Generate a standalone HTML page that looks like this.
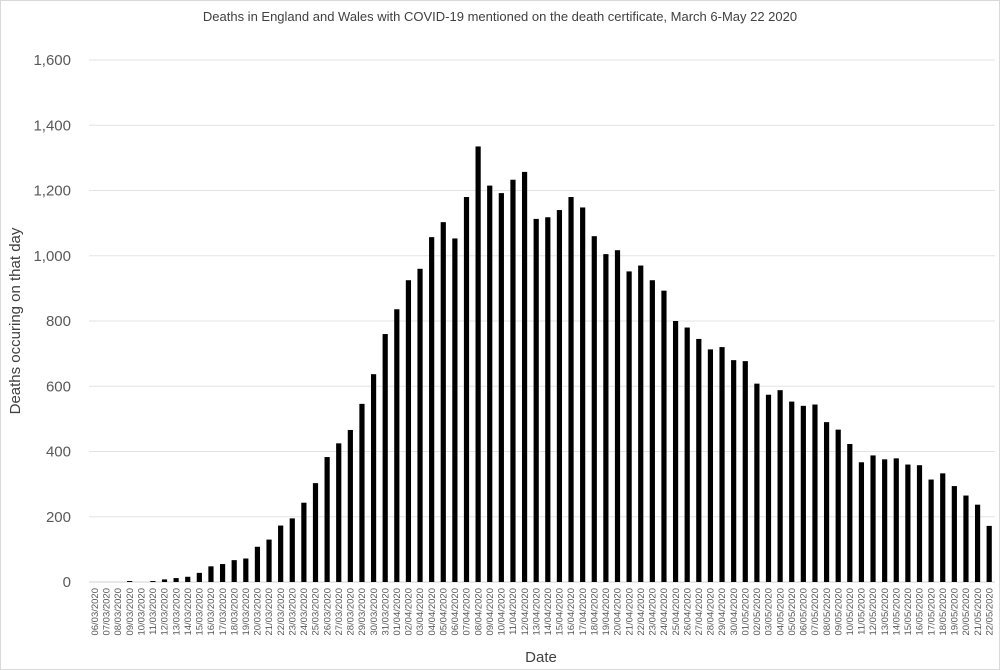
<!DOCTYPE html>
<html><head><meta charset="utf-8"><style>
body{margin:0;background:#fff;font-family:"Liberation Sans",sans-serif;}
svg{display:block}
</style></head><body>
<svg id="chart" width="1000" height="670">
<rect x="0.5" y="0.5" width="999" height="669" fill="#fff" stroke="#d9d9d9"/>
<text x="500" y="21" text-anchor="middle" font-size="13" fill="#404040">Deaths in England and Wales with COVID-19 mentioned on the death certificate, March 6-May 22 2020</text>
<text transform="translate(20,321) rotate(-90)" text-anchor="middle" font-size="15" fill="#404040">Deaths occuring on that day</text>
<text x="541" y="662" text-anchor="middle" font-size="15" fill="#404040">Date</text>
<g id="grid"></g><g id="bars"></g><g id="xl"></g>
</svg>
<script>
const yTicks=[0,200,400,600,800,1000,1200,1400,1600];
const values=[0,0,0,3,0,3,8,12,16,28,48,55,67,72,108,130,173,195,243,303,383,425,466,546,637,760,
836,925,960,1057,1103,1053,1180,1335,1215,1192,1233,1257,1113,1118,1140,1180,1148,1060,1005,1017,952,970,925,893,800,780,745,713,720,680,
677,608,574,588,553,540,544,490,467,423,367,388,376,379,360,358,314,333,294,265,237,172];
const months=[["03",6,31],["04",1,30],["05",1,22]];
const dates=[];
months.forEach(m=>{for(let d=m[1];d<=m[2];d++)dates.push(String(d).padStart(2,"0")+"/"+m[0]+"/2020");});
const NS="http://www.w3.org/2000/svg";
const x0=89,x1=995,yb=582,yt=60;
const y=v=>yb-(v/1600)*(yb-yt);
const step=(x1-x0)/dates.length;
const xc=i=>x0+step*(i+0.5);
const g=document.getElementById("grid"),b=document.getElementById("bars"),xl=document.getElementById("xl");
yTicks.forEach(t=>{
 const l=document.createElementNS(NS,"line");
 
 
 l.setAttribute("x1",x0);l.setAttribute("x2",x1);l.setAttribute("y1",y(t));l.setAttribute("y2",y(t));
 l.setAttribute("stroke",t===0?"#d0d0d0":"#e3e3e3");l.setAttribute("stroke-width","1");
 g.appendChild(l);
 const tx=document.createElementNS(NS,"text");
 
 
 tx.setAttribute("x",71);tx.setAttribute("y",y(t)+5);tx.setAttribute("text-anchor","end");
 tx.setAttribute("font-size","15");tx.setAttribute("fill","#595959");
 tx.textContent=t.toLocaleString("en-US");g.appendChild(tx);
});
values.forEach((v,i)=>{
 const r=document.createElementNS(NS,"rect");
 
 
 r.setAttribute("x",xc(i)-2.6);r.setAttribute("width",5.2);
 r.setAttribute("y",y(v));r.setAttribute("height",yb-y(v));r.setAttribute("fill","#000");
 b.appendChild(r);
 const t=document.createElementNS(NS,"text");
 
 
 t.setAttribute("transform","translate("+(xc(i)+3.2)+",588) rotate(-90)");
 t.setAttribute("text-anchor","end");t.setAttribute("font-size","9.5");t.setAttribute("fill","#595959");
 t.textContent=dates[i];xl.appendChild(t);
});
</script>
</body></html>
